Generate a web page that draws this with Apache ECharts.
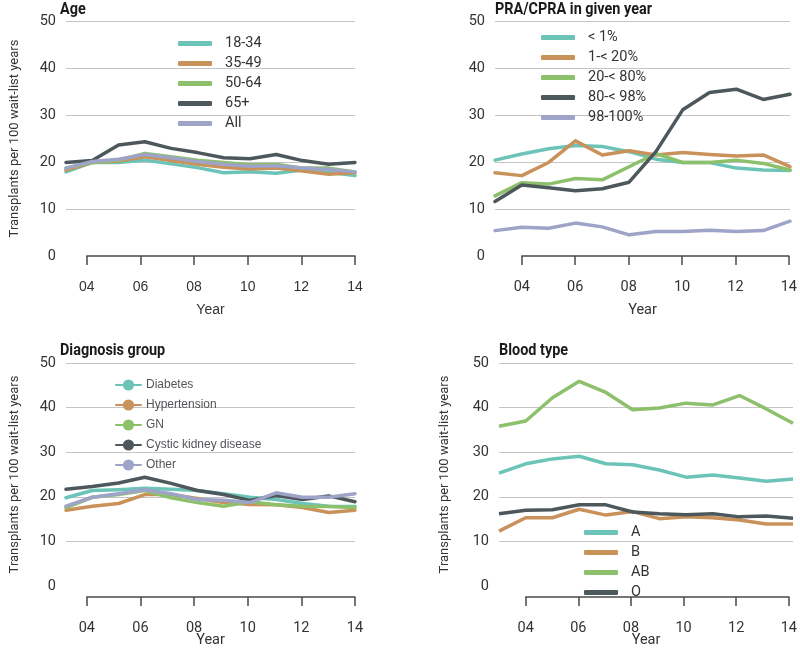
<!DOCTYPE html>
<html>
<head>
<meta charset="utf-8">
<script src="https://cdn.jsdelivr.net/npm/echarts@6/dist/echarts.min.js"></script>
<style>html,body{margin:0;padding:0;background:#fff;}.c{position:absolute;width:400px;}</style>
</head>
<body>
<div class="c" id="p0" style="left:0;top:0;height:326px"></div>
<div class="c" id="p1" style="left:400px;top:0;height:326px"></div>
<div class="c" id="p2" style="left:0;top:326px;height:327px"></div>
<div class="c" id="p3" style="left:400px;top:326px;height:327px"></div>
<script>
const years = [2003,2004,2005,2006,2007,2008,2009,2010,2011,2012,2013,2014];

// Age
const ageNames = ['18-34','35-49','50-64','65+','All'];
const age1834 = [17.9,19.9,19.9,20.4,19.6,18.8,17.7,17.9,17.6,18.3,17.8,17.1];
const age3549 = [18.3,19.9,20.2,21.1,20.3,19.5,18.9,18.5,18.7,18.1,17.4,17.7];
const age5064 = [18.7,19.9,20.4,21.8,21.1,20.4,19.9,19.4,19.5,18.7,18.7,17.9];
const age65p  = [19.9,20.3,23.6,24.3,22.9,22.0,20.9,20.7,21.6,20.3,19.5,19.9];
const ageAll  = [18.7,20.1,20.6,21.6,20.9,20.1,19.5,19.1,19.2,18.7,18.4,17.9];

// PRA/CPRA
const praNames = ['< 1%','1-< 20%','20-< 80%','80-< 98%','98-100%'];
const praLt1   = [20.4,21.7,22.8,23.5,23.3,22.2,20.6,19.9,19.9,18.7,18.3,18.2];
const pra1to20 = [17.7,17.1,19.9,24.5,21.5,22.4,21.5,22.0,21.6,21.3,21.5,19.0];
const pra20to80= [12.8,15.6,15.3,16.5,16.2,19.0,21.8,19.9,19.9,20.4,19.7,18.3];
const pra80to98= [11.6,15.1,14.5,13.9,14.3,15.7,22.2,31.1,34.8,35.5,33.3,34.4];
const pra98to100=[5.4,6.1,5.9,7.0,6.2,4.5,5.2,5.2,5.5,5.2,5.4,7.4];

// Diagnosis group
const dxNames = ['Diabetes','Hypertension','GN','Cystic kidney disease','Other'];
const dxDiabetes = [19.8,21.4,21.6,21.9,21.7,21.4,20.7,19.9,19.4,18.5,17.9,17.8];
const dxHyper    = [17.0,17.9,18.5,20.5,20.5,19.6,18.7,18.3,18.2,17.6,16.5,17.0];
const dxGN       = [17.6,19.9,20.5,21.4,19.8,18.7,17.9,18.9,18.2,17.9,17.8,17.6];
const dxCystic   = [21.7,22.3,23.1,24.4,23.0,21.4,20.5,19.2,20.3,19.4,20.2,18.9];
const dxOther    = [17.9,19.9,20.7,21.6,20.7,19.4,19.2,18.7,20.9,19.9,19.9,20.7];

// Blood type
const btNames = ['A','B','AB','O'];
const btA  = [25.3,27.4,28.5,29.1,27.4,27.2,26.0,24.4,24.9,24.2,23.5,24.0];
const btB  = [12.3,15.3,15.3,17.2,15.9,16.7,15.1,15.5,15.3,14.8,13.9,13.9];
const btAB = [35.8,37.0,42.2,45.9,43.4,39.5,39.9,41.0,40.6,42.7,39.7,36.5];
const btO  = [16.2,17.0,17.1,18.2,18.2,16.6,16.2,16.0,16.2,15.5,15.7,15.2];

const TEAL='#6cc4b8', ORANGE='#c9925a', GREEN='#8dc06b', DARK='#4d585d', LAV='#9ea3c8';
const FONT='Roboto';
const TITLE_FONT='bold 17px Roboto';

const mctx = document.createElement('canvas').getContext('2d');
mctx.font = TITLE_FONT;
const titleScale = 157 / mctx.measureText('PRA/CPRA in given year').width;

const panels = [
  {el:'p0', ox:0, oy:0, title:'Age', left:60, top:21, w:295, h:235, titleY:1, yGap:45, v:0,
   names:ageNames, data:[age1834,age3549,age5064,age65p,ageAll], colors:[TEAL,ORANGE,GREEN,DARK,LAV], legLeft:173, legTop:31},
  {el:'p1', ox:400, oy:0, title:'PRA/CPRA in given year', left:495, top:21, w:295, h:235, titleY:1, yGap:45, v:1,
   names:praNames, data:[praLt1,pra1to20,pra20to80,pra80to98,pra98to100], colors:[TEAL,ORANGE,GREEN,DARK,LAV], legLeft:536, legTop:25},
  {el:'p2', ox:0, oy:326, title:'Diagnosis group', left:60, top:363, w:295, h:234, titleY:342, yGap:45, v:2,
   names:dxNames, data:[dxDiabetes,dxHyper,dxGN,dxCystic,dxOther], colors:[TEAL,ORANGE,GREEN,DARK,LAV], legLeft:110, legTop:374},
  {el:'p3', ox:400, oy:326, title:'Blood type', left:499, top:363, w:294, h:234, titleY:342, yGap:48, v:3,
   names:btNames, data:[btA,btB,btAB,btO], colors:[TEAL,ORANGE,GREEN,DARK], legLeft:579, legTop:520}
];

panels.forEach(p => {
  const L = p.left - p.ox, T = p.top - p.oy;
  const off = p.w / 11;
  const xLabel = p.v === 0 ? {margin:24, fontSize:14, color:'#333'} : {margin:24, fontFamily:FONT, fontSize:14.5, color:'#333'};
  const option = {
    animation:false,
    graphic:[{type:'text', x:L, y:p.titleY - p.oy, scaleX:titleScale,
      style:{text:p.title, font:TITLE_FONT, fill:'#1a1a1a', verticalAlign:'top'}}],
    grid:[{left:L, top:T, width:p.w, height:p.h},
          {left:L+off, top:T, width:p.w-off, height:p.h}],
    xAxis:[
      {type:'value', gridIndex:0, min:2003, max:2014,
       axisLine:{show:false}, axisTick:{show:false}, axisLabel:{show:false}, splitLine:{show:false},
       name:'Year', nameLocation:'middle', nameGap:47,
       nameTextStyle:p.v === 0 ? {fontSize:14, color:'#333'} : {fontFamily:FONT, fontSize:14.5, color:'#333'}},
      {type:'value', gridIndex:1, min:2004, max:2014, interval:2,
       axisLine:{show:true, lineStyle:{color:'#4a4a4a', width:1.5}},
       axisTick:{show:true, length:9, lineStyle:{color:'#4a4a4a', width:1.5}},
       axisLabel:Object.assign({formatter:v => String(v).slice(2)}, xLabel),
       splitLine:{show:false}}
    ],
    yAxis:[
      {type:'value', gridIndex:0, min:0, max:50, interval:10,
       axisLine:{show:false}, axisTick:{show:false},
       axisLabel:{margin:10, fontFamily:FONT, fontSize:14.5, color:'#333'},
       splitLine:{show:true, lineStyle:{color:['rgba(0,0,0,0)','#c4c4c4','#c4c4c4','#c4c4c4','#c4c4c4','#c4c4c4']}}},
      {type:'value', gridIndex:1, min:0, max:50, show:false}
    ],
    series: p.names.map((n, k) => ({type:'line', name:n, xAxisIndex:0, yAxisIndex:0,
      data: years.map((y, j) => [y, p.data[k][j]]),
      symbol:'none', color:p.colors[k],
      lineStyle: p.v === 3 ? {width:3.5, color:p.colors[k]} : {width:3.5, color:p.colors[k], join:'round', cap:'round'}}))
  };
  if (p.v !== 1) {
    Object.assign(option.yAxis[0], {name:'Transplants per 100 wait-list years', nameLocation:'middle', nameGap:p.yGap,
      nameTextStyle:{fontFamily:FONT, fontSize:13, color:'#333'}});
  }
  if (p.v !== 2) {
    option.legend = [{data:p.names, orient:'vertical', left:p.legLeft - p.ox, top:p.legTop - p.oy,
      itemWidth:34, itemHeight:5, itemGap:5, icon:'roundRect', selectedMode:false,
      textStyle:{fontFamily:FONT, fontSize:14.5, color:'#333', padding:[0,0,0,8], lineHeight:15}}];
  } else {
    option.legend = [{data:p.names, orient:'vertical', left:p.legLeft - p.ox, top:p.legTop - p.oy}];
  }
  const chart = echarts.init(document.getElementById(p.el));
  chart.setOption(option);
});
</script>
</body>
</html>
